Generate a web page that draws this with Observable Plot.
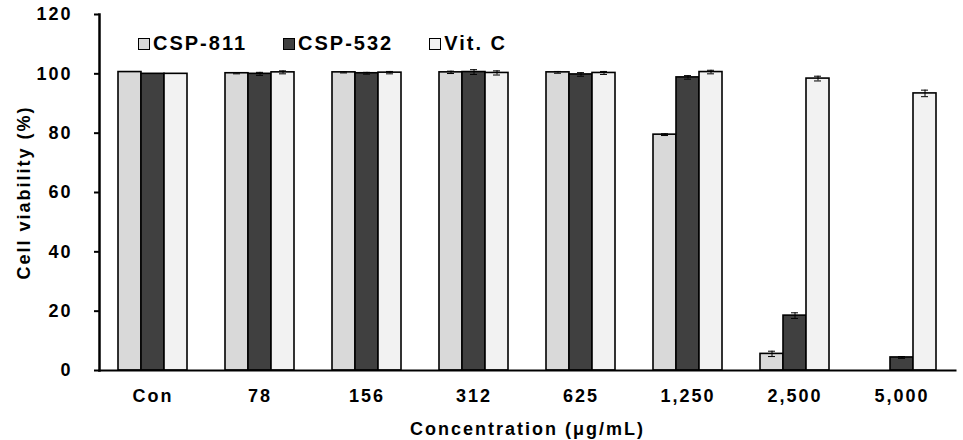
<!DOCTYPE html>
<html>
<head>
<meta charset="utf-8">
<script src="https://cdn.jsdelivr.net/npm/d3@7"></script>
<script src="https://cdn.jsdelivr.net/npm/@observablehq/plot@0.6"></script>
<style>
  html, body { margin: 0; padding: 0; background: #fff; }
  #wrap { position: relative; width: 963px; height: 440px; font-family: "Liberation Sans", Arial, sans-serif; }
  #wrap svg text { letter-spacing: 2px; }
  #legend { position: absolute; top: 32px; left: 138px; display: flex; align-items: center;
            font-weight: bold; font-size: 20px; letter-spacing: 2px; color: #000; }
  .item { display: flex; align-items: center; margin-right: 36px; }
  .sw { width: 10px; height: 10px; border: 1px solid #000; margin-right: 3px; }
</style>
</head>
<body>
<div id="wrap">
  <div id="chart"></div>
  <div id="legend"></div>
</div>
<script>
const concentrations = ["Con", "78", "156", "312", "625", "1,250", "2,500", "5,000"];
const series = ["CSP-811", "CSP-532", "Vit. C"];
const seriesColors = ["#d9d9d9", "#404040", "#f2f2f2"];
const csp811 = [100.6, 100.2, 100.5, 100.5, 100.5, 79.5, 5.6, 0];
const csp811Err = [0, 0.2, 0.2, 0.4, 0.3, 0.3, 0.9, 0];
const csp532 = [100.0, 100.0, 100.2, 100.6, 99.8, 98.8, 18.5, 4.4];
const csp532Err = [0, 0.5, 0.3, 0.8, 0.6, 0.6, 0.95, 0.3];
const vitC = [100.0, 100.5, 100.4, 100.3, 100.3, 100.6, 98.4, 93.4];
const vitCErr = [0, 0.5, 0.4, 0.7, 0.5, 0.6, 0.8, 1.1];
const yTicks = [0, 20, 40, 60, 80, 100, 120];

const values = [csp811, csp532, vitC];
const errors = [csp811Err, csp532Err, vitCErr];
const table = concentrations.flatMap((c, i) =>
  series.map((s, j) => ({conc: c, series: s, value: values[j][i], err: errors[j][i]})));
const bars = table.filter(d => d.value > 0);
const errs = table.filter(d => d.err > 0 && d.value > 0);

const chart = Plot.plot({
  width: 963,
  height: 440,
  marginLeft: 97,
  marginRight: 6,
  marginTop: 14,
  marginBottom: 70,
  style: {fontFamily: "'Liberation Sans', Arial, sans-serif", fontWeight: "bold", fontSize: "18px", color: "#000", background: "#fff"},
  fx: {domain: concentrations, padding: 0},
  x: {domain: series, paddingInner: 0, paddingOuter: 0.75, axis: null},
  y: {domain: [0, 120]},
  color: {domain: series, range: seriesColors},
  marks: [
    Plot.barY(bars, {fx: "conc", x: "series", y: "value", fill: "series", stroke: "#000", strokeWidth: 1.6}),
    Plot.ruleX(errs, {fx: "conc", x: "series", y1: d => d.value - d.err, y2: d => d.value + d.err, stroke: "#000", strokeWidth: 1}),
    Plot.tickY(errs, {fx: "conc", x: "series", y: d => d.value - d.err, insetLeft: 8, insetRight: 8, stroke: "#000", strokeWidth: 1}),
    Plot.tickY(errs, {fx: "conc", x: "series", y: d => d.value + d.err, insetLeft: 8, insetRight: 8, stroke: "#000", strokeWidth: 1}),
    Plot.axisY({ticks: yTicks, tickSize: 5, tickPadding: 22, strokeWidth: 2, label: "Cell viability (%)", labelAnchor: "center", labelOffset: 82, labelArrow: "none"}),
    Plot.axisFx({anchor: "bottom", tickSize: 0, tickPadding: 19, label: "Concentration (μg/mL)", labelAnchor: "center", labelOffset: 64, labelArrow: "none"}),
    Plot.frame({anchor: "left", facet: "super", stroke: "#000", strokeWidth: 2.5}),
    Plot.frame({anchor: "bottom", facet: "super", stroke: "#000", strokeWidth: 2})
  ]
});
document.getElementById("chart").appendChild(chart);

const legend = d3.select("#legend");
series.forEach((s, i) => {
  const it = legend.append("div").attr("class", "item");
  it.append("div").attr("class", "sw").style("background", seriesColors[i]);
  it.append("span").text(s);
});
</script>
</body>
</html>
